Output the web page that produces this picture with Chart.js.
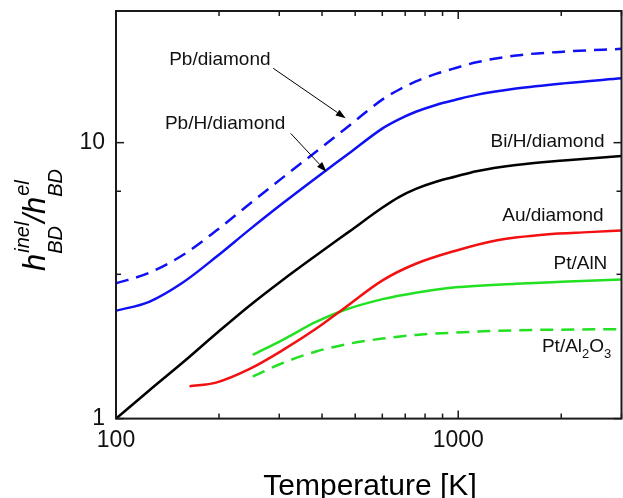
<!DOCTYPE html>
<html>
<head>
<meta charset="utf-8">
<script src="https://cdn.jsdelivr.net/npm/chart.js@4.4.1/dist/chart.umd.min.js"></script>
<style>
  html, body { margin: 0; padding: 0; background: #fff; }
  canvas { display: block; }
</style>
</head>
<body>
<canvas id="c" width="623" height="498"></canvas>
<script>
// Inelastic / elastic boundary conductance ratio versus temperature (K)
const pbDiamondT  = [100, 125, 156, 196, 245, 307, 384, 480, 601, 671, 752, 861, 983, 1130, 1475, 2032, 3000];
const pbDiamondV  = [3.09, 3.375, 3.90, 4.79, 5.98, 7.47, 9.27, 11.52, 14.35, 15.55, 16.67, 17.75, 18.64, 19.55, 20.7, 21.37, 21.88];

const pbHDiamondT = [100, 125, 156, 196, 245, 307, 384, 480, 601, 671, 752, 861, 983, 1130, 1475, 2032, 3000];
const pbHDiamondV = [2.46, 2.65, 3.10, 3.85, 4.83, 6.03, 7.45, 9.15, 11.27, 12.15, 12.94, 13.7, 14.3, 14.9, 15.7, 16.4, 17.1];

const biHDiamondT = [100, 125, 157, 196, 245, 307, 384, 480, 601, 671, 752, 861, 983, 1130, 1475, 2032, 3000];
const biHDiamondV = [1.0, 1.265, 1.60, 2.03, 2.56, 3.18, 3.90, 4.76, 5.82, 6.35, 6.80, 7.22, 7.54, 7.88, 8.30, 8.62, 8.95];

const auDiamondT  = [164, 196, 245, 307, 384, 459, 601, 752, 983, 1300, 1800, 2400, 3000];
const auDiamondV  = [1.31, 1.35, 1.51, 1.77, 2.115, 2.485, 3.17, 3.64, 4.06, 4.43, 4.65, 4.74, 4.80];

const ptAlNT      = [251, 307, 384, 459, 601, 752, 983, 1475, 2000, 3000];
const ptAlNV      = [1.70, 1.93, 2.24, 2.46, 2.71, 2.86, 2.99, 3.08, 3.13, 3.19];

const ptAl2O3T    = [251, 307, 384, 481, 601, 752, 983, 1475, 2000, 3000];
const ptAl2O3V    = [1.42, 1.59, 1.75, 1.87, 1.95, 2.01, 2.05, 2.09, 2.10, 2.11];

// Axis ticks
const xMajorTicks = [100, 1000];
const xMinorTicks = [200, 300, 400, 500, 600, 700, 800, 900, 2000, 3000];
const yMajorTicks = [1, 10];
const yMinorTicks = [10 / 3, 20 / 3];

const FONT = '"Liberation Sans", Arial, Helvetica, sans-serif';
const BLUE = '#1010f5', BLACK = '#000000', RED = '#f21010', GREEN = '#22e022';

const zip = (ts, vs) => ts.map((t, i) => ({ x: t, y: vs[i] }));

const datasets = [
  { label: 'Pb/diamond',   data: zip(pbDiamondT, pbDiamondV),   borderColor: BLUE,  borderDash: [13, 8] },
  { label: 'Pb/H/diamond', data: zip(pbHDiamondT, pbHDiamondV), borderColor: BLUE },
  { label: 'Bi/H/diamond', data: zip(biHDiamondT, biHDiamondV), borderColor: BLACK },
  { label: 'Au/diamond',   data: zip(auDiamondT, auDiamondV),   borderColor: RED },
  { label: 'Pt/AlN',       data: zip(ptAlNT, ptAlNV),           borderColor: GREEN },
  { label: 'Pt/Al2O3',     data: zip(ptAl2O3T, ptAl2O3V),       borderColor: GREEN, borderDash: [13, 8] }
];

// Curve labels, anchored in data units (temperature, ratio) at the text baseline
const curveLabels = [
  { text: 'Pb/diamond',   t: 143,  v: 19.1, align: 'left' },
  { text: 'Pb/H/diamond', t: 139,  v: 11.18, align: 'left' },
  { text: 'Bi/H/diamond', t: 2677, v: 9.62, align: 'right' },
  { text: 'Au/diamond',   t: 2660, v: 5.20, align: 'right' },
  { text: 'Pt/AlN',       t: 2727, v: 3.48, align: 'right' }
];
const al2o3Label = { t: 2801, v: 1.748 };

// Pointer arrows from the labels to their curves
const arrows = [
  { from: [288, 18.6],  to: [469, 12.26] },
  { from: [324, 10.8],  to: [412, 7.85] }
];

const decor = {
  id: 'decor',
  afterDraw(chart) {
    const { ctx, chartArea: a, scales: { x, y } } = chart;
    ctx.save();

    // inward tick marks on all four sides
    ctx.strokeStyle = '#1a1a1a';
    ctx.lineWidth = 1.5;
    const seg = (x0, y0, x1, y1) => { ctx.beginPath(); ctx.moveTo(x0, y0); ctx.lineTo(x1, y1); ctx.stroke(); };
    const xTicks = (vals, len) => vals.forEach(v => {
      const px = x.getPixelForValue(v);
      seg(px, a.bottom, px, a.bottom - len);
      seg(px, a.top, px, a.top + len);
    });
    const yTicks = (vals, len) => vals.forEach(v => {
      const py = y.getPixelForValue(v);
      seg(a.left, py, a.left + len, py);
      seg(a.right, py, a.right - len, py);
    });
    xTicks(xMajorTicks, 8); xTicks(xMinorTicks, 5);
    yTicks(yMajorTicks, 8); yTicks(yMinorTicks, 5);

    // frame
    ctx.lineWidth = 2;
    ctx.strokeRect(a.left, a.top, a.right - a.left, a.bottom - a.top);

    // arrows
    ctx.strokeStyle = '#000';
    ctx.fillStyle = '#000';
    ctx.lineWidth = 1;
    arrows.forEach(ar => {
      const x0 = x.getPixelForValue(ar.from[0]), y0 = y.getPixelForValue(ar.from[1]);
      const x1 = x.getPixelForValue(ar.to[0]),   y1 = y.getPixelForValue(ar.to[1]);
      const ang = Math.atan2(y1 - y0, x1 - x0);
      const hl = 10, hw = 3.5;
      const bx = x1 - hl * Math.cos(ang), by = y1 - hl * Math.sin(ang);
      seg(x0, y0, bx, by);
      ctx.beginPath();
      ctx.moveTo(x1, y1);
      ctx.lineTo(bx + hw * Math.sin(ang), by - hw * Math.cos(ang));
      ctx.lineTo(bx - hw * Math.sin(ang), by + hw * Math.cos(ang));
      ctx.closePath();
      ctx.fill();
    });

    // curve labels
    ctx.fillStyle = '#111';
    ctx.textBaseline = 'alphabetic';
    ctx.font = '19px ' + FONT;
    curveLabels.forEach(l => {
      ctx.textAlign = l.align;
      ctx.fillText(l.text, x.getPixelForValue(l.t), y.getPixelForValue(l.v));
    });

    // Pt/Al2O3 with subscripts, right-aligned
    {
      const big = '19px ' + FONT, small = '13px ' + FONT;
      const parts = [['Pt/Al', big, 0], ['2', small, 6], ['O', big, 0], ['3', small, 6]];
      let total = 0;
      parts.forEach(p => { ctx.font = p[1]; total += ctx.measureText(p[0]).width; });
      let px = x.getPixelForValue(al2o3Label.t) - total;
      const py = y.getPixelForValue(al2o3Label.v);
      ctx.textAlign = 'left';
      parts.forEach(p => {
        ctx.font = p[1];
        ctx.fillText(p[0], px, py + p[2]);
        px += ctx.measureText(p[0]).width;
      });
    }

    // x-axis title
    ctx.font = '30px ' + FONT;
    ctx.textAlign = 'center';
    ctx.fillStyle = '#000';
    ctx.fillText('Temperature [K]', 370, 495);

    // y-axis title: h^inel_BD / h^el_BD, italic, rotated
    {
      const big = 'italic 31px ' + FONT, small = 'italic 20px ' + FONT;
      const pieces = [
        { t: 'h' }, { sup: 'inel', sub: 'BD' }, { t: '/' }, { t: 'h' }, { sup: 'el', sub: 'BD' }
      ];
      const width = p => {
        if (p.t) { ctx.font = big; return ctx.measureText(p.t).width; }
        ctx.font = small;
        return Math.max(ctx.measureText(p.sup).width, ctx.measureText(p.sub).width);
      };
      const total = pieces.reduce((s, p) => s + width(p), 0);
      ctx.save();
      ctx.translate(45, 220);
      ctx.rotate(-Math.PI / 2);
      ctx.textAlign = 'left';
      let cx = -total / 2;
      pieces.forEach(p => {
        const w = width(p);
        if (p.t) {
          ctx.font = big;
          ctx.fillText(p.t, cx, 0);
        } else {
          ctx.font = small;
          ctx.fillText(p.sup, cx + 1, -16.5);
          ctx.fillText(p.sub, cx, 16.5);
        }
        cx += w;
      });
      ctx.restore();
    }

    ctx.restore();
  }
};

new Chart(document.getElementById('c'), {
  type: 'line',
  data: { datasets },
  options: {
    responsive: false,
    animation: false,
    devicePixelRatio: 1,
    layout: { padding: { top: 11, right: 1.5, left: 0, bottom: 0 } },
    plugins: { legend: { display: false }, tooltip: { enabled: false } },
    elements: {
      point: { radius: 0 },
      line: { borderWidth: 2.5, cubicInterpolationMode: 'monotone', fill: false }
    },
    scales: {
      x: {
        type: 'logarithmic',
        min: 100, max: 3000,
        grid: { display: false, drawTicks: false },
        border: { display: false },
        afterBuildTicks: s => { s.ticks = xMajorTicks.map(v => ({ value: v })); },
        afterFit: s => { s.height = 79.4; s.paddingLeft = 0; s.paddingRight = 0; },
        ticks: {
          font: { family: FONT, size: 23 }, color: '#111', padding: 8.5,
          maxRotation: 0, autoSkip: false,
          callback: v => String(v)
        }
      },
      y: {
        type: 'logarithmic',
        min: 1, max: 30,
        grid: { display: false, drawTicks: false },
        border: { display: false },
        afterBuildTicks: s => { s.ticks = yMajorTicks.map(v => ({ value: v })); },
        afterFit: s => { s.width = 116; s.paddingTop = 0; s.paddingBottom = 0; },
        ticks: {
          font: { family: FONT, size: 23 }, color: '#111', padding: 11,
          autoSkip: false,
          callback: v => String(v)
        }
      }
    }
  },
  plugins: [decor]
});
</script>
</body>
</html>
